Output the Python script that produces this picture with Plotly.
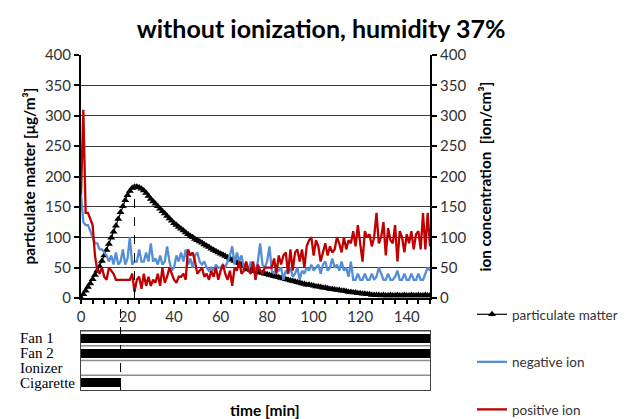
import plotly.graph_objects as go

# ---------------- data ----------------
time_min = list(range(0, 151))

particulate_matter = [
    0, 6, 12, 18, 24, 31, 38, 45, 52, 61, 70, 79, 89, 99, 109, 119, 130, 141, 151, 161,
    169, 176, 181, 183, 183, 182, 180, 177, 173, 168, 163, 159, 155, 151, 147, 143, 139, 135, 131, 127,
    123, 120, 117, 114, 111, 108, 105, 102, 100, 97, 95, 93, 91, 88, 86, 84, 81, 79, 77, 75,
    73, 71, 69, 67, 65, 63, 61, 59, 57, 55, 52, 49, 47, 46, 45, 44, 43, 42, 41, 40,
    39, 38, 37, 36, 35, 34, 33, 32, 31, 30, 29, 28, 27, 26, 25, 24, 23, 22, 22, 21,
    20, 19, 19, 18, 17, 17, 16, 15, 15, 14, 13, 13, 12, 12, 11, 10, 10, 9, 9, 8,
    8, 7, 7, 6, 6, 5, 5, 5, 5, 4, 5, 4, 4, 5, 4, 4, 5, 4, 4, 5,
    4, 4, 5, 4, 4, 5, 4, 4, 5, 4, 4,
]

negative_ion = [
    170, 125, 120, 120, 110, 100, 90, 90, 80, 80, 75, 70, 60, 70, 55, 75, 55, 60, 80, 55,
    65, 100, 55, 60, 60, 80, 60, 60, 75, 60, 90, 60, 65, 55, 70, 55, 60, 85, 60, 45,
    50, 70, 60, 75, 60, 80, 55, 65, 50, 70, 75, 60, 55, 60, 50, 45, 50, 45, 55, 50,
    50, 55, 50, 60, 70, 85, 55, 75, 60, 70, 50, 55, 45, 60, 50, 40, 60, 90, 55, 50,
    60, 85, 45, 40, 50, 45, 50, 30, 45, 40, 50, 35, 40, 50, 30, 45, 40, 50, 45, 55,
    45, 50, 55, 40, 55, 60, 45, 50, 65, 50, 55, 45, 60, 45, 50, 35, 60, 30, 30, 40,
    30, 30, 40, 30, 30, 40, 30, 35, 50, 40, 30, 30, 40, 30, 30, 35, 45, 30, 30, 40,
    30, 30, 40, 30, 30, 40, 30, 30, 40, 50, 45,
]

positive_ion = [
    170, 310, 140, 140, 130, 120, 70, 45, 40, 50, 35, 30, 50, 45, 40, 30, 30, 30, 30, 30,
    30, 30, 40, 10, 30, 35, 15, 40, 20, 35, 20, 30, 25, 40, 20, 50, 25, 35, 50, 40,
    30, 25, 35, 35, 40, 30, 80, 70, 75, 60, 40, 45, 50, 35, 40, 30, 45, 35, 50, 30,
    45, 55, 40, 30, 45, 20, 50, 45, 60, 40, 45, 60, 45, 40, 60, 30, 55, 45, 40, 50,
    50, 50, 50, 65, 40, 70, 55, 70, 75, 40, 80, 45, 75, 80, 60, 80, 50, 85, 95, 100,
    70, 95, 85, 60, 75, 90, 70, 85, 75, 80, 100, 90, 75, 100, 80, 95, 90, 110, 85, 120,
    90, 60, 110, 100, 105, 85, 100, 140, 90, 100, 125, 70, 115, 95, 90, 120, 60, 110, 100, 75,
    105, 90, 110, 80, 105, 110, 80, 140, 80, 140, 85,
]

x_ticks = [0, 20, 40, 60, 80, 100, 120, 140]
y_ticks = [0, 50, 100, 150, 200, 250, 300, 350, 400]

devices = ["Fan 1", "Fan 2", "Ionizer", "Cigarette"]
device_on = [0, 0, None, 0]
device_off = [150, 150, None, 17]

peak_time = 23
cigarette_end = 17

# ---------------- figure ----------------
# page body has an 8px margin: figure origin sits at (8, 8) of the window
OFF = 8
W, H = 628 - OFF, 419 - OFF
ML, MR, MT, MB = 81 - OFF, 198, 55 - OFF, 29
plot_w = W - ML - MR
plot_h = H - MT - MB
main_bottom = (390 - 298) / plot_h
panel_top = (390 - 331) / plot_h


def px_x(x_ref):
    return (x_ref - 81) / plot_w


SANS = "Lato, Open Sans, sans-serif"
SERIF = "Liberation Serif, DejaVu Serif, serif"

fig = go.Figure()

fig.add_trace(go.Scatter(
    x=time_min, y=particulate_matter, name="particulate matter", mode="lines+markers",
    line=dict(color="#000000", width=1.2),
    marker=dict(symbol="triangle-up", size=7, color="#000000"),
    xaxis="x", yaxis="y", legendgroup="a",
))
fig.add_trace(go.Scatter(
    x=time_min, y=negative_ion, name="negative ion", mode="lines",
    line=dict(color="#558ED5", width=2.3),
    xaxis="x", yaxis="y2", legendgroup="b",
))
fig.add_trace(go.Scatter(
    x=time_min, y=positive_ion, name="positive ion", mode="lines",
    line=dict(color="#C00000", width=2.3),
    xaxis="x", yaxis="y2", legendgroup="c",
))

# schedule panel
n = len(devices)
for i, (d, a, b) in enumerate(zip(devices, device_on, device_off)):
    row_center = n - i - 0.5
    if a is not None:
        fig.add_trace(go.Bar(
            x=[b - a], base=[a], y=[row_center], orientation="h", width=0.62,
            marker=dict(color="#000000", line=dict(width=0)),
            xaxis="x3", yaxis="y3", showlegend=False, hoverinfo="skip",
        ))
    fig.add_annotation(
        x=px_x(18), xref="paper", y=row_center, yref="y3",
        text=d, showarrow=False, xanchor="left", yanchor="middle",
        font=dict(family=SERIF, size=15, color="#000000"),
    )

for k in range(1, n + 1):
    fig.add_shape(type="line", xref="x3", yref="y3", x0=0, x1=150, y0=k, y1=k,
                  line=dict(color="#8c8c8c", width=1.5))

# dashed markers
fig.add_shape(type="line", xref="x", yref="y", x0=peak_time, x1=peak_time,
              y0=0, y1=particulate_matter[time_min.index(peak_time)],
              line=dict(color="#000000", width=1, dash="dash"))
fig.add_shape(type="line", xref="x", yref="paper", x0=cigarette_end, x1=cigarette_end,
              y0=0, y1=main_bottom,
              line=dict(color="#000000", width=1, dash="dash"))

axis_font = dict(family=SANS, size=15, color="#333333")

fig.update_layout(
    width=W, height=H,
    margin=dict(l=ML, r=MR, t=MT, b=MB, autoexpand=False),
    paper_bgcolor="white", plot_bgcolor="white",
    title=dict(text="<b>without ionization, humidity 37%</b>",
               x=(321 - OFF) / W, xanchor="center", y=1 - (29 - OFF) / H, yanchor="middle",
               font=dict(family=SANS, size=25, color="#000000")),
    showlegend=True,
    legend=dict(xref="container", x=(472 - OFF) / W, xanchor="left",
                yref="container", y=1 - (299 - OFF) / H, yanchor="top",
                traceorder="grouped", tracegroupgap=27, itemwidth=30,
                font=dict(family=SANS, size=13.5, color="#333333"),
                bgcolor="rgba(0,0,0,0)"),
    bargap=0,
    xaxis=dict(domain=[0, 1], range=[0, 150], anchor="y", automargin=False,
               tickvals=x_ticks, ticks="outside", ticklen=4, tickwidth=1.5, tickcolor="#000",
               minor=dict(dtick=5, ticks="outside", ticklen=4, tickwidth=1.5, tickcolor="#000"),
               showline=True, linecolor="#000", linewidth=1.5,
               showgrid=False, zeroline=False, tickfont=axis_font),
    yaxis=dict(domain=[main_bottom, 1], range=[0, 400], anchor="x", automargin=False,
               tickvals=y_ticks, ticks="outside", ticklen=5, tickwidth=2, tickcolor="#000",
               showline=True, linecolor="#000", linewidth=2,
               showgrid=True, gridcolor="#3a3a3a", gridwidth=1,
               zeroline=False, tickfont=axis_font),
    yaxis2=dict(overlaying="y", side="right", range=[0, 400], anchor="x", automargin=False,
                tickvals=y_ticks, ticks="outside", ticklen=5, tickwidth=2, tickcolor="#000",
                showline=True, linecolor="#000", linewidth=2,
                showgrid=False, zeroline=False, tickfont=axis_font),
    xaxis3=dict(domain=[0, 1], range=[0, 150], anchor="y3", automargin=False,
                showticklabels=False, ticks="", showgrid=False, zeroline=False,
                showline=True, mirror=True, linecolor="#444", linewidth=1),
    yaxis3=dict(domain=[0, panel_top], range=[0, n], anchor="x3", automargin=False,
                showticklabels=False, ticks="", showgrid=False, zeroline=False,
                showline=True, mirror=True, linecolor="#444", linewidth=1),
)

fig.add_annotation(x=px_x(28), xref="paper",
                   y=(main_bottom + 1) / 2, yref="paper",
                   text="<b>particulate matter [μg/m³]</b>", textangle=-90,
                   showarrow=False, xanchor="center", yanchor="middle",
                   font=dict(family=SANS, size=15.3, color="#000000"))
fig.add_annotation(x=px_x(484), xref="paper",
                   y=(main_bottom + 1) / 2, yref="paper",
                   text="<b>ion concentration  [ion/cm³]</b>", textangle=-90,
                   showarrow=False, xanchor="center", yanchor="middle",
                   font=dict(family=SANS, size=15.3, color="#000000"))
fig.add_annotation(x=px_x(265), xref="paper",
                   y=(390 - 410) / plot_h, yref="paper",
                   text="<b>time [min]</b>", showarrow=False,
                   xanchor="center", yanchor="middle",
                   font=dict(family=SANS, size=15.5, color="#000000"))

fig.write_html("out.html")
